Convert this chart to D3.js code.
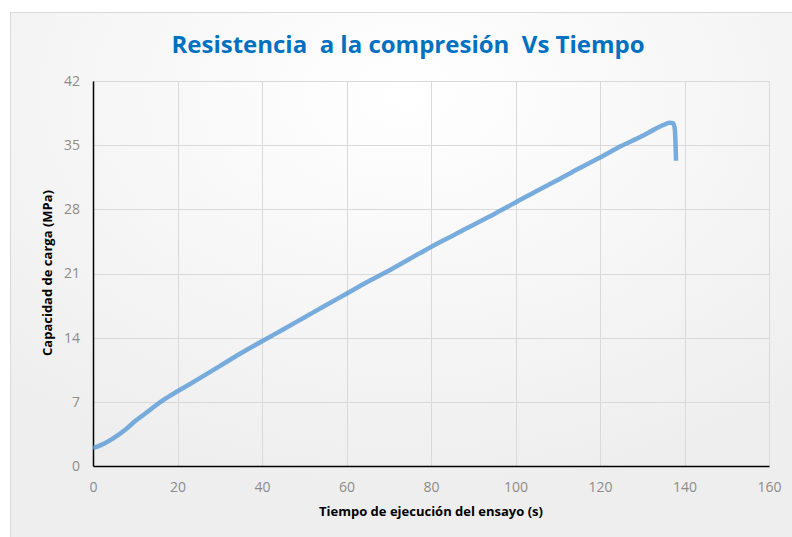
<!DOCTYPE html>
<html><head><meta charset="utf-8">
<script src="https://cdn.jsdelivr.net/npm/d3@7"></script>
<style>html,body{margin:0;padding:0;background:#fff;overflow:hidden}</style>
</head><body>
<script>
const titleText = "Resistencia  a la compresión  Vs Tiempo";
const xLabel = "Tiempo de ejecución del ensayo (s)";
const yLabel = "Capacidad de carga (MPa)";
const xTicks = [0, 20, 40, 60, 80, 100, 120, 140, 160];
const yTicks = [0, 7, 14, 21, 28, 35, 42];
const timeS = [0, 2, 4, 6, 8, 10, 12, 14, 16, 18, 20, 25, 30, 35, 40, 45, 50, 55, 60, 65, 70, 75, 80, 85, 90, 95, 100, 105, 110, 115, 120, 125, 130, 133, 135, 136.5, 137.3, 137.7, 138];
const loadMPa = [1.95, 2.3, 2.8, 3.4, 4.1, 4.9, 5.6, 6.3, 7.0, 7.6, 8.15, 9.5, 10.9, 12.3, 13.6, 14.9, 16.2, 17.5, 18.8, 20.1, 21.3, 22.6, 23.9, 25.1, 26.3, 27.5, 28.75, 30.0, 31.2, 32.45, 33.65, 34.9, 36.0, 36.75, 37.2, 37.45, 37.4, 36.8, 33.3];

const W = 792, H = 537;
const svg = d3.select("body").append("svg").attr("width", W).attr("height", H);
const defs = svg.append("defs");
const rg = defs.append("radialGradient").attr("id", "bg")
  .attr("cx", "50%").attr("cy", "15%").attr("r", "75%");
rg.append("stop").attr("offset", "0%").attr("stop-color", "#ffffff");
rg.append("stop").attr("offset", "100%").attr("stop-color", "#eeeeee");

// chart area
svg.append("rect").attr("x", 10.5).attr("y", 12.5).attr("width", W).attr("height", H)
  .attr("fill", "url(#bg)").attr("stroke", "#d9d9d9").attr("stroke-width", 1);

const m = {left: 93, right: 769, top: 81, bottom: 466};
const x = d3.scaleLinear().domain([0, 160]).range([m.left, m.right]);
const y = d3.scaleLinear().domain([0, 42]).range([m.bottom, m.top]);

// grid
svg.append("g").selectAll("line").data(xTicks.filter(d => d > 0)).join("line")
  .attr("x1", d => Math.round(x(d)) + 0.5).attr("x2", d => Math.round(x(d)) + 0.5)
  .attr("y1", m.top).attr("y2", m.bottom).attr("stroke", "#d9d9d9").attr("stroke-width", 1);
svg.append("g").selectAll("line").data(yTicks.filter(d => d > 0)).join("line")
  .attr("y1", d => Math.round(y(d)) + 0.5).attr("y2", d => Math.round(y(d)) + 0.5)
  .attr("x1", m.left).attr("x2", m.right).attr("stroke", "#d9d9d9").attr("stroke-width", 1);

// axes
const xAxis = d3.axisBottom(x).tickValues(xTicks).tickSize(0).tickPadding(16);
const gx = svg.append("g").attr("transform", `translate(0,${m.bottom})`).call(xAxis);
gx.select(".domain").attr("stroke", "#000").attr("stroke-width", 1.5);
gx.selectAll("text").attr("fill", "#8c8c8c").attr("font-size", 14).attr("font-family", "'Open Sans', sans-serif");

const yAxis = d3.axisLeft(y).tickValues(yTicks).tickSize(0).tickPadding(13);
const gy = svg.append("g").attr("transform", `translate(${m.left},0)`).call(yAxis);
gy.select(".domain").attr("stroke", "#000").attr("stroke-width", 1.5);
gy.selectAll("text").attr("fill", "#8c8c8c").attr("font-size", 14).attr("font-family", "'Open Sans', sans-serif");

// line
const pts = timeS.map((t, i) => [t, loadMPa[i]]);
svg.append("path").datum(pts)
  .attr("d", d3.line().x(d => x(d[0])).y(d => y(d[1])).curve(d3.curveMonotoneX))
  .attr("fill", "none").attr("stroke", "#5b9bd5").attr("stroke-opacity", 0.82)
  .attr("stroke-width", 4.5).attr("stroke-linecap", "butt").attr("stroke-linejoin", "round");

// title
svg.append("text").attr("x", 408).attr("y", 53).attr("text-anchor", "middle")
  .attr("font-family", "'Open Sans', sans-serif").attr("font-weight", "bold")
  .attr("font-size", 24).attr("fill", "#0070c0").style("white-space", "pre").text(titleText);

// axis titles
svg.append("text").attr("x", 431).attr("y", 516).attr("text-anchor", "middle")
  .attr("font-family", "'Open Sans', sans-serif").attr("font-weight", "bold")
  .attr("font-size", 13).attr("fill", "#000").text(xLabel);
svg.append("text").attr("transform", "translate(52,273) rotate(-90)").attr("text-anchor", "middle")
  .attr("font-family", "'Open Sans', sans-serif").attr("font-weight", "bold")
  .attr("font-size", 13).attr("fill", "#000").text(yLabel);
</script>
</body></html>
